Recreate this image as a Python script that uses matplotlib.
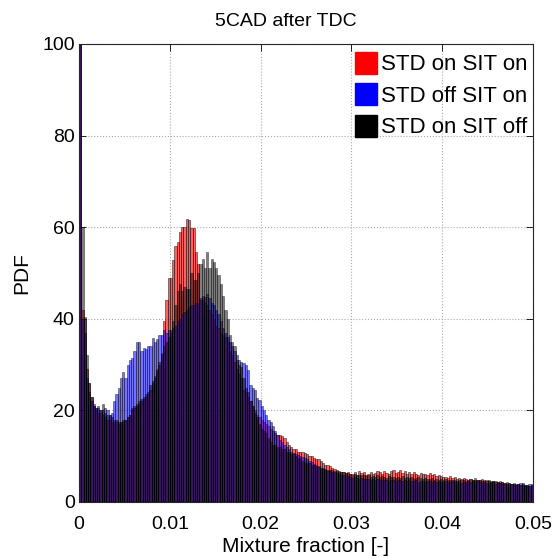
import matplotlib
matplotlib.use("Agg")
import matplotlib.pyplot as plt
from matplotlib.patches import Patch
import numpy as np

plt.rcParams['font.family'] = ['Liberation Sans', 'DejaVu Sans']

bin_width = 0.00025
title = "5CAD after TDC"
series_names = ["STD on SIT on", "STD off SIT on", "STD on SIT off"]
series_colors = ["#ff0000", "#0000ff", "#000000"]

std_on_sit_off = [
    120, 60, 40.5, 32, 26, 23, 21.5, 20.5, 21, 20,
    21.5, 19.5, 19, 19, 18.5, 18, 18, 17.5, 17.5, 18,
    18, 18.5, 19, 20.5, 21, 21.5, 22, 22.5, 23, 23.5,
    24, 25.5, 26.5, 27.5, 29, 30.5, 32.5, 34, 35, 36,
    37.5, 39.5, 43, 46, 47.5, 46, 47, 46.5, 46.5, 50,
    48.5, 48.5, 50, 52, 53, 51, 54.5, 51, 53, 52.5,
    51, 49.5, 47.5, 45, 42, 40, 36.5, 35, 34, 31,
    30, 29.5, 27, 25, 24, 22, 21, 19.5, 18.5, 17,
    16, 15.5, 15, 14, 13, 12.5, 12.5, 12, 12, 11.5,
    11.5, 11, 11, 10.5, 10.5, 10, 9.5, 9.5, 9, 8.8,
    8.5, 8.5, 8, 8, 7.8, 7.8, 7.5, 7.5, 7.2, 7,
    7, 7, 6.8, 6.8, 6.5, 6.5, 6.5, 6.3, 6.3, 6.2,
    6, 6.2, 6, 5.8, 6, 5.8, 5.6, 5.8, 5.5, 5.7,
    5.5, 5.8, 5.4, 5.6, 5.5, 5.3, 5.6, 5.4, 5.5, 5.2,
    5.5, 5.3, 5.6, 5.3, 5.4, 5.2, 5.5, 5.1, 5.3, 5.4,
    5.2, 5, 5.3, 5.1, 5, 5.2, 4.9, 5.1, 4.8, 5,
    4.9, 5, 4.8, 4.7, 4.9, 4.8, 4.6, 4.9, 4.7, 4.8,
    4.6, 4.8, 5, 4.7, 5.2, 4.9, 4.8, 5, 4.6, 4.8,
    4.7, 4.6, 4.5, 4.6, 4.4, 4.5, 4.3, 4.2, 4.4, 4.1,
    4, 4.1, 3.9, 4, 3.8, 3.9, 3.7, 3.8, 3.6, 3.7,
]

std_on_sit_on = [
    120, 42, 40, 29, 26, 23, 21, 20, 19.5, 19.5,
    19, 18.5, 18, 18, 17.5, 17.5, 17.5, 17, 17.5, 17.5,
    18, 18.5, 19, 20, 20.5, 21, 21.5, 22, 22.5, 23,
    23.5, 24.5, 26, 27, 28.5, 30, 32, 39.5, 44, 49,
    49, 52.8, 56, 56.8, 59, 60, 60, 61.8, 61.5, 59.8,
    59.8, 54.6, 52, 44, 44, 43.5, 43, 42, 41, 40,
    38.5, 38, 37, 36.5, 36, 35, 33, 32, 30.5, 29,
    28, 27, 24.5, 24, 23, 22, 21, 20, 19, 18.5,
    18, 17.5, 17, 16.5, 16, 15.5, 15, 14.6, 14.6, 14.5,
    14, 13, 12.5, 12, 11.5, 11.5, 11, 11, 11, 10.8,
    10.5, 10, 10, 9.5, 9.3, 9.3, 9, 8.5, 8, 8,
    7.8, 7.5, 7.3, 7, 6.8, 6.5, 6.5, 6.3, 6.5, 6.2,
    6.2, 6.5, 6, 6.8, 6.3, 6.5, 6, 6.2, 6.5, 6.1,
    6.3, 6.7, 6.5, 6.2, 6.8, 6.4, 6.2, 6.7, 6.9, 6.3,
    6.5, 7, 6.4, 6.8, 6.2, 6.6, 6.1, 6.5, 6.2, 6,
    6.4, 6.1, 6.2, 5.9, 6.3, 5.8, 6.1, 5.7, 6, 5.6,
    5.5, 5.4, 5.3, 5.6, 5.2, 5.4, 5.1, 5.3, 5, 5.2,
    5, 4.9, 5.1, 4.8, 4.9, 4.7, 4.8, 4.6, 4.7, 4.5,
    4.6, 4.4, 4.5, 4.3, 4.4, 4.2, 4.3, 4.1, 4, 4.1,
    4, 3.9, 3.8, 3.9, 3.7, 3.8, 3.6, 3.5, 3.6, 3.4,
]

std_off_sit_on = [
    120, 40, 37, 27, 24, 22, 21, 20.5, 20.5, 20,
    20, 20.5, 20, 19, 19.5, 22, 23.5, 25, 27, 28.4,
    27, 30, 31, 31.4, 33, 35, 35, 33, 33.6, 33.5,
    34, 34, 35.7, 35, 35.5, 36.4, 36.5, 37.5, 37, 37.5,
    37, 38, 38.5, 39.5, 40, 41, 41.5, 42, 42.5, 43,
    43, 43.5, 43.5, 44.5, 45, 44.8, 45.5, 44.5, 43.5, 43,
    42, 41, 39.5, 38, 37, 36, 35, 34, 33, 32,
    31, 30.6, 30.3, 30, 28.8, 25.5, 25, 24.4, 22.7, 22.3,
    21, 20, 19, 18, 17.5, 16.5, 15.5, 14.6, 13.5, 13,
    12.4, 12, 11.5, 11, 10.7, 10.5, 10.2, 10, 9.8, 9.6,
    9.3, 9, 8.7, 8.4, 8, 7.7, 7.5, 7.3, 7, 6.8,
    6.8, 6.6, 6.6, 6.4, 6.2, 6, 5.9, 5.7, 5.6, 5.5,
    5.3, 5.4, 5.2, 5.1, 5.3, 5, 5.1, 5, 4.9, 5,
    4.8, 5, 4.9, 4.7, 4.9, 4.8, 4.6, 4.8, 4.7, 4.6,
    4.8, 4.7, 4.6, 4.8, 4.5, 4.7, 4.6, 4.5, 4.7, 4.4,
    4.6, 4.5, 4.4, 4.6, 4.5, 4.3, 4.5, 4.4, 4.6, 4.3,
    4.4, 4.5, 4.3, 4.4, 4.6, 4.3, 4.5, 4.4, 4.2, 4.4,
    4.3, 4.5, 4.4, 4.6, 4.3, 4.5, 4.4, 4.2, 4.3, 4.1,
    4.2, 4.1, 4.3, 4, 4.2, 4.1, 3.9, 4, 3.9, 3.8,
    3.9, 3.8, 3.7, 3.9, 4.1, 4.2, 3.7, 3.8, 3.9, 4,
]

x_ticks = [0, 0.01, 0.02, 0.03, 0.04, 0.05]
x_tick_labels = ["0", "0.01", "0.02", "0.03", "0.04", "0.05"]
y_ticks = [0, 20, 40, 60, 80, 100]
y_tick_labels = ["0", "20", "40", "60", "80", "100"]

W, H = 556, 557
fig = plt.figure(figsize=(W / 100, H / 100), dpi=100)
ax = fig.add_axes([79 / W, 1 - 502 / H, 454 / W, 458 / H])

left_edges = np.arange(len(std_on_sit_on)) * bin_width
series = [std_on_sit_on, std_off_sit_on, std_on_sit_off]
alphas = [0.62, 0.55, 0.5]
for vals, col, a in zip(series, series_colors, alphas):
    ax.bar(left_edges, vals, width=bin_width, align='edge', color=col,
           alpha=a, edgecolor='black', linewidth=0.5, zorder=2)

ax.set_xlim(0, 0.05)
ax.set_ylim(0, 100)
ax.set_xticks(x_ticks)
ax.set_xticklabels(x_tick_labels)
ax.set_yticks(y_ticks)
ax.set_yticklabels(y_tick_labels)
ax.tick_params(direction='in', top=True, right=True, labelsize=14, length=5, width=0.6)
ax.tick_params(axis='x', pad=10)
ax.tick_params(axis='y', pad=3)
ax.grid(True, linestyle=':', color='#aaaaaa', linewidth=0.8, zorder=0)
ax.set_axisbelow(True)
for s in ax.spines.values():
    s.set_linewidth(0.8)
    s.set_color('#262626')

ax.set_xlabel("Mixture fraction [-]", fontsize=15, labelpad=3)
ax.set_ylabel("PDF", fontsize=15, labelpad=8)
fig.text(286 / W, 1 - 26 / H, title, fontsize=14, ha='center', va='baseline')

handles = [Patch(facecolor=c, edgecolor=c) for c in series_colors]
leg = ax.legend(handles, series_names, loc='upper left',
                bbox_to_anchor=((355 - 79) / 454, (502 - 52) / 458),
                fontsize=16, frameon=False, borderaxespad=0.0, borderpad=0.0,
                handlelength=1.0, handleheight=1.13, handletextpad=0.18,
                labelspacing=0.36)

fig.savefig("out.png", dpi=100)
